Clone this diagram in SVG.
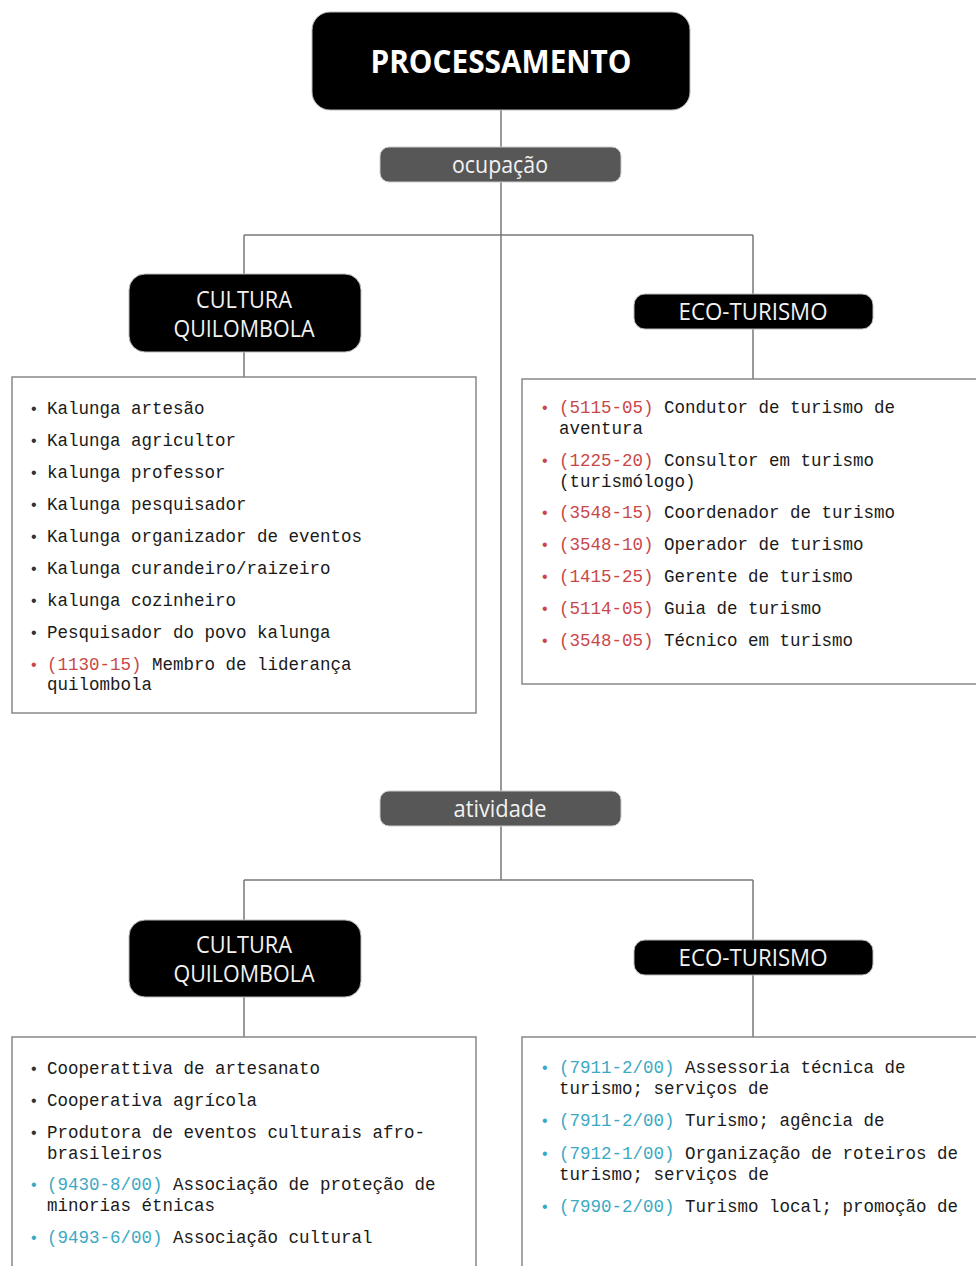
<svg xmlns="http://www.w3.org/2000/svg" width="976" height="1266" viewBox="0 0 976 1266">
<style>
.blk{fill:#000;stroke:#bbb;stroke-width:1}
.gry{fill:#575757;stroke:#ccc;stroke-width:1}
.hd{fill:#f2f2f2;font-family:"Open Sans","Liberation Sans",sans-serif;font-size:23px;text-anchor:middle}
.ttl{fill:#fff;font-family:"Open Sans","Liberation Sans",sans-serif;font-size:33px;font-weight:bold;text-anchor:middle}
.lst{fill:#fff;stroke:#888;stroke-width:1.5}
.t{font-family:"Liberation Mono","Courier New",monospace;font-size:17.5px;fill:#1a1a1a}
.b{font-family:"Liberation Sans",sans-serif;font-size:16px;fill:#333}
.r{fill:#c9474a}
.c{fill:#3aa9c4}
.con line{stroke:#777;stroke-width:1.5}
</style>
<g class="con" id="connectors">
<line x1="501" y1="110" x2="501" y2="880"/>
<line x1="244" y1="235" x2="753" y2="235"/>
<line x1="244" y1="235" x2="244" y2="377"/>
<line x1="753" y1="235" x2="753" y2="379"/>
<line x1="244" y1="880" x2="753" y2="880"/>
<line x1="244" y1="880" x2="244" y2="1037"/>
<line x1="753" y1="880" x2="753" y2="1037"/>
</g>
<g id="processamento">
<rect class="blk" x="312" y="12" width="378" height="98" rx="18"/>
<text class="ttl" x="501" y="73" textLength="261" lengthAdjust="spacingAndGlyphs">PROCESSAMENTO</text>
</g>
<g id="ocupacao">
<rect class="gry" x="380" y="147" width="241" height="35" rx="9"/>
<text class="hd" x="500" y="173" textLength="96" lengthAdjust="spacingAndGlyphs">ocupação</text>
</g>
<g id="cultura1">
<rect class="blk" x="129" y="274" width="232" height="78" rx="16"/>
<text class="hd" x="244" y="308" textLength="96" lengthAdjust="spacingAndGlyphs">CULTURA</text>
<text class="hd" x="244" y="337" textLength="141" lengthAdjust="spacingAndGlyphs">QUILOMBOLA</text>
</g>
<g id="eco1">
<rect class="blk" x="634" y="294" width="239" height="35" rx="11"/>
<text class="hd" x="753" y="320" textLength="149" lengthAdjust="spacingAndGlyphs">ECO-TURISMO</text>
</g>
<g id="lista-cultura-ocupacao">
<rect class="lst" x="12" y="377" width="464" height="336"/>
<g class="b">
<text x="31" y="414">•</text><text x="31" y="446">•</text><text x="31" y="478">•</text><text x="31" y="510">•</text><text x="31" y="542">•</text><text x="31" y="574">•</text><text x="31" y="606">•</text><text x="31" y="638">•</text><text x="31" y="670" class="r">•</text>
</g>
<g class="t">
<text x="47" y="414">Kalunga artesão</text>
<text x="47" y="446">Kalunga agricultor</text>
<text x="47" y="478">kalunga professor</text>
<text x="47" y="510">Kalunga pesquisador</text>
<text x="47" y="542">Kalunga organizador de eventos</text>
<text x="47" y="574">Kalunga curandeiro/raizeiro</text>
<text x="47" y="606">kalunga cozinheiro</text>
<text x="47" y="638">Pesquisador do povo kalunga</text>
<text x="47" y="670"><tspan class="r">(1130-15)</tspan> Membro de liderança</text>
<text x="47" y="690">quilombola</text>
</g>
</g>
<g id="lista-eco-ocupacao">
<rect class="lst" x="522" y="379" width="460" height="305"/>
<g class="b r">
<text x="542" y="413">•</text><text x="542" y="466">•</text><text x="542" y="518">•</text><text x="542" y="550">•</text><text x="542" y="582">•</text><text x="542" y="614">•</text><text x="542" y="646">•</text>
</g>
<g class="t">
<text x="559" y="413"><tspan class="r">(5115-05)</tspan> Condutor de turismo de</text>
<text x="559" y="434">aventura</text>
<text x="559" y="466"><tspan class="r">(1225-20)</tspan> Consultor em turismo</text>
<text x="559" y="487">(turismólogo)</text>
<text x="559" y="518"><tspan class="r">(3548-15)</tspan> Coordenador de turismo</text>
<text x="559" y="550"><tspan class="r">(3548-10)</tspan> Operador de turismo</text>
<text x="559" y="582"><tspan class="r">(1415-25)</tspan> Gerente de turismo</text>
<text x="559" y="614"><tspan class="r">(5114-05)</tspan> Guia de turismo</text>
<text x="559" y="646"><tspan class="r">(3548-05)</tspan> Técnico em turismo</text>
</g>
</g>
<g id="atividade">
<rect class="gry" x="380" y="791" width="241" height="35" rx="9"/>
<text class="hd" x="500" y="817" textLength="93" lengthAdjust="spacingAndGlyphs">atividade</text>
</g>
<g id="cultura2">
<rect class="blk" x="129" y="920" width="232" height="77" rx="16"/>
<text class="hd" x="244" y="953" textLength="96" lengthAdjust="spacingAndGlyphs">CULTURA</text>
<text class="hd" x="244" y="982" textLength="141" lengthAdjust="spacingAndGlyphs">QUILOMBOLA</text>
</g>
<g id="eco2">
<rect class="blk" x="634" y="940" width="239" height="35" rx="11"/>
<text class="hd" x="753" y="966" textLength="149" lengthAdjust="spacingAndGlyphs">ECO-TURISMO</text>
</g>
<g id="lista-cultura-atividade">
<rect class="lst" x="12" y="1037" width="464" height="240"/>
<g class="b">
<text x="31" y="1074">•</text><text x="31" y="1106">•</text><text x="31" y="1138">•</text><text x="31" y="1190" class="c">•</text><text x="31" y="1243" class="c">•</text>
</g>
<g class="t">
<text x="47" y="1074">Cooperattiva de artesanato</text>
<text x="47" y="1106">Cooperativa agrícola</text>
<text x="47" y="1138">Produtora de eventos culturais afro-</text>
<text x="47" y="1159">brasileiros</text>
<text x="47" y="1190"><tspan class="c">(9430-8/00)</tspan> Associação de proteção de</text>
<text x="47" y="1211">minorias étnicas</text>
<text x="47" y="1243"><tspan class="c">(9493-6/00)</tspan> Associação cultural</text>
</g>
</g>
<g id="lista-eco-atividade">
<rect class="lst" x="522" y="1037" width="460" height="240"/>
<g class="b c">
<text x="542" y="1073">•</text><text x="542" y="1126">•</text><text x="542" y="1159">•</text><text x="542" y="1212">•</text>
</g>
<g class="t">
<text x="559" y="1073"><tspan class="c">(7911-2/00)</tspan> Assessoria técnica de</text>
<text x="559" y="1094">turismo; serviços de</text>
<text x="559" y="1126"><tspan class="c">(7911-2/00)</tspan> Turismo; agência de</text>
<text x="559" y="1159"><tspan class="c">(7912-1/00)</tspan> Organização de roteiros de</text>
<text x="559" y="1180">turismo; serviços de</text>
<text x="559" y="1212"><tspan class="c">(7990-2/00)</tspan> Turismo local; promoção de</text>
</g>
</g>
</svg>
